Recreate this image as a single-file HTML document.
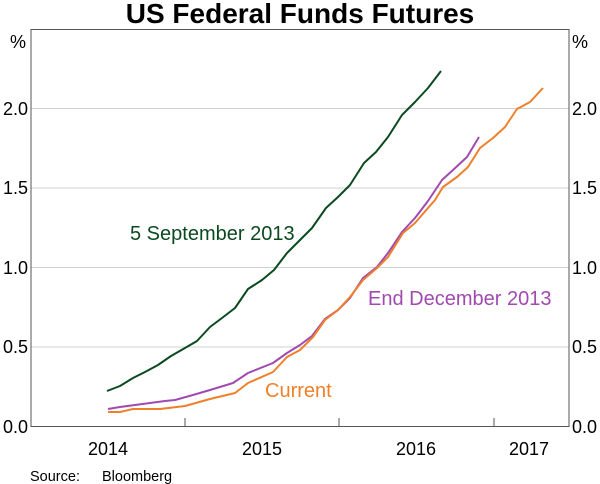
<!DOCTYPE html>
<html><head><style>
body{margin:0;background:#fff}
svg{display:block;font-family:"Liberation Sans",Arial,sans-serif}
</style></head><body>
<svg width="600" height="484" viewBox="0 0 600 484">
<text x="300" y="23" font-size="28" font-weight="bold" text-anchor="middle">US Federal Funds Futures</text>
<g stroke="#d0d0d0" stroke-width="1">
<line x1="31" x2="569" y1="108.5" y2="108.5"/>
<line x1="31" x2="569" y1="188" y2="188"/>
<line x1="31" x2="569" y1="267.5" y2="267.5"/>
<line x1="31" x2="569" y1="347" y2="347"/>
</g>
<rect x="31" y="29.5" width="538" height="397" fill="none" stroke="#555" stroke-width="1"/>
<g stroke="#555"><line x1="185" x2="185" y1="418" y2="426"/><line x1="339" x2="339" y1="418" y2="426"/><line x1="494" x2="494" y1="418" y2="426"/></g>
<g font-size="18" fill="#000">
<text x="10" y="48">%</text><text x="572" y="48">%</text>
<g text-anchor="end"><text x="28" y="115">2.0</text><text x="28" y="194">1.5</text><text x="28" y="274">1.0</text><text x="28" y="353">0.5</text><text x="28" y="433">0.0</text></g>
<g><text x="572" y="115">2.0</text><text x="572" y="194">1.5</text><text x="572" y="274">1.0</text><text x="572" y="353">0.5</text><text x="572" y="433">0.0</text></g>
<g text-anchor="middle"><text x="108" y="455">2014</text><text x="262" y="455">2015</text><text x="416" y="455">2016</text><text x="529" y="455">2017</text></g>
</g>
<text x="30" y="481" font-size="14.5">Source:</text><text x="102" y="481" font-size="14.5">Bloomberg</text>
<g fill="none" stroke-width="2" stroke-linejoin="round">
<polyline stroke="#0b4a1f" points="107,391 120,386 133,378 145,372 158,365 171,356 185,348 197,341 210,327 222,318 235,308 248,289 262,280 274,270 287,253 299,241 312,228 326,208 338,197 350,185 364,163 376,152 388,137 402,115 415,102 428,88 441,71"/>
<polyline stroke="#a04ab0" points="108,409 120,407 135,405 150,403 165,401 175,400 193,395 210,390 233,383 248,373 273,363 287,353 300,345 312,336 325,319 338,310 350,298 363,278 377,267 388,253 402,232 415,218 428,201 442,180 453,170 467,157 479,137"/>
<polyline stroke="#f07f2a" points="108,412 120,412 133,409 160,409 185,406 210,399 235,393 248,383 273,372 287,357 300,350 313,337 325,320 338,310 350,297 363,280 377,268 388,257 403,233 415,223 428,208 435,200 443,187 457,177 468,167 480,148 493,138 505,127 517,109 530,102 543,88"/>
</g>
<text x="130" y="240" font-size="20" fill="#0b4a1f">5 September 2013</text>
<text x="368" y="305" font-size="20" fill="#a04ab0">End December 2013</text>
<text x="265" y="397" font-size="20" fill="#f07f2a">Current</text>
</svg>
</body></html>
